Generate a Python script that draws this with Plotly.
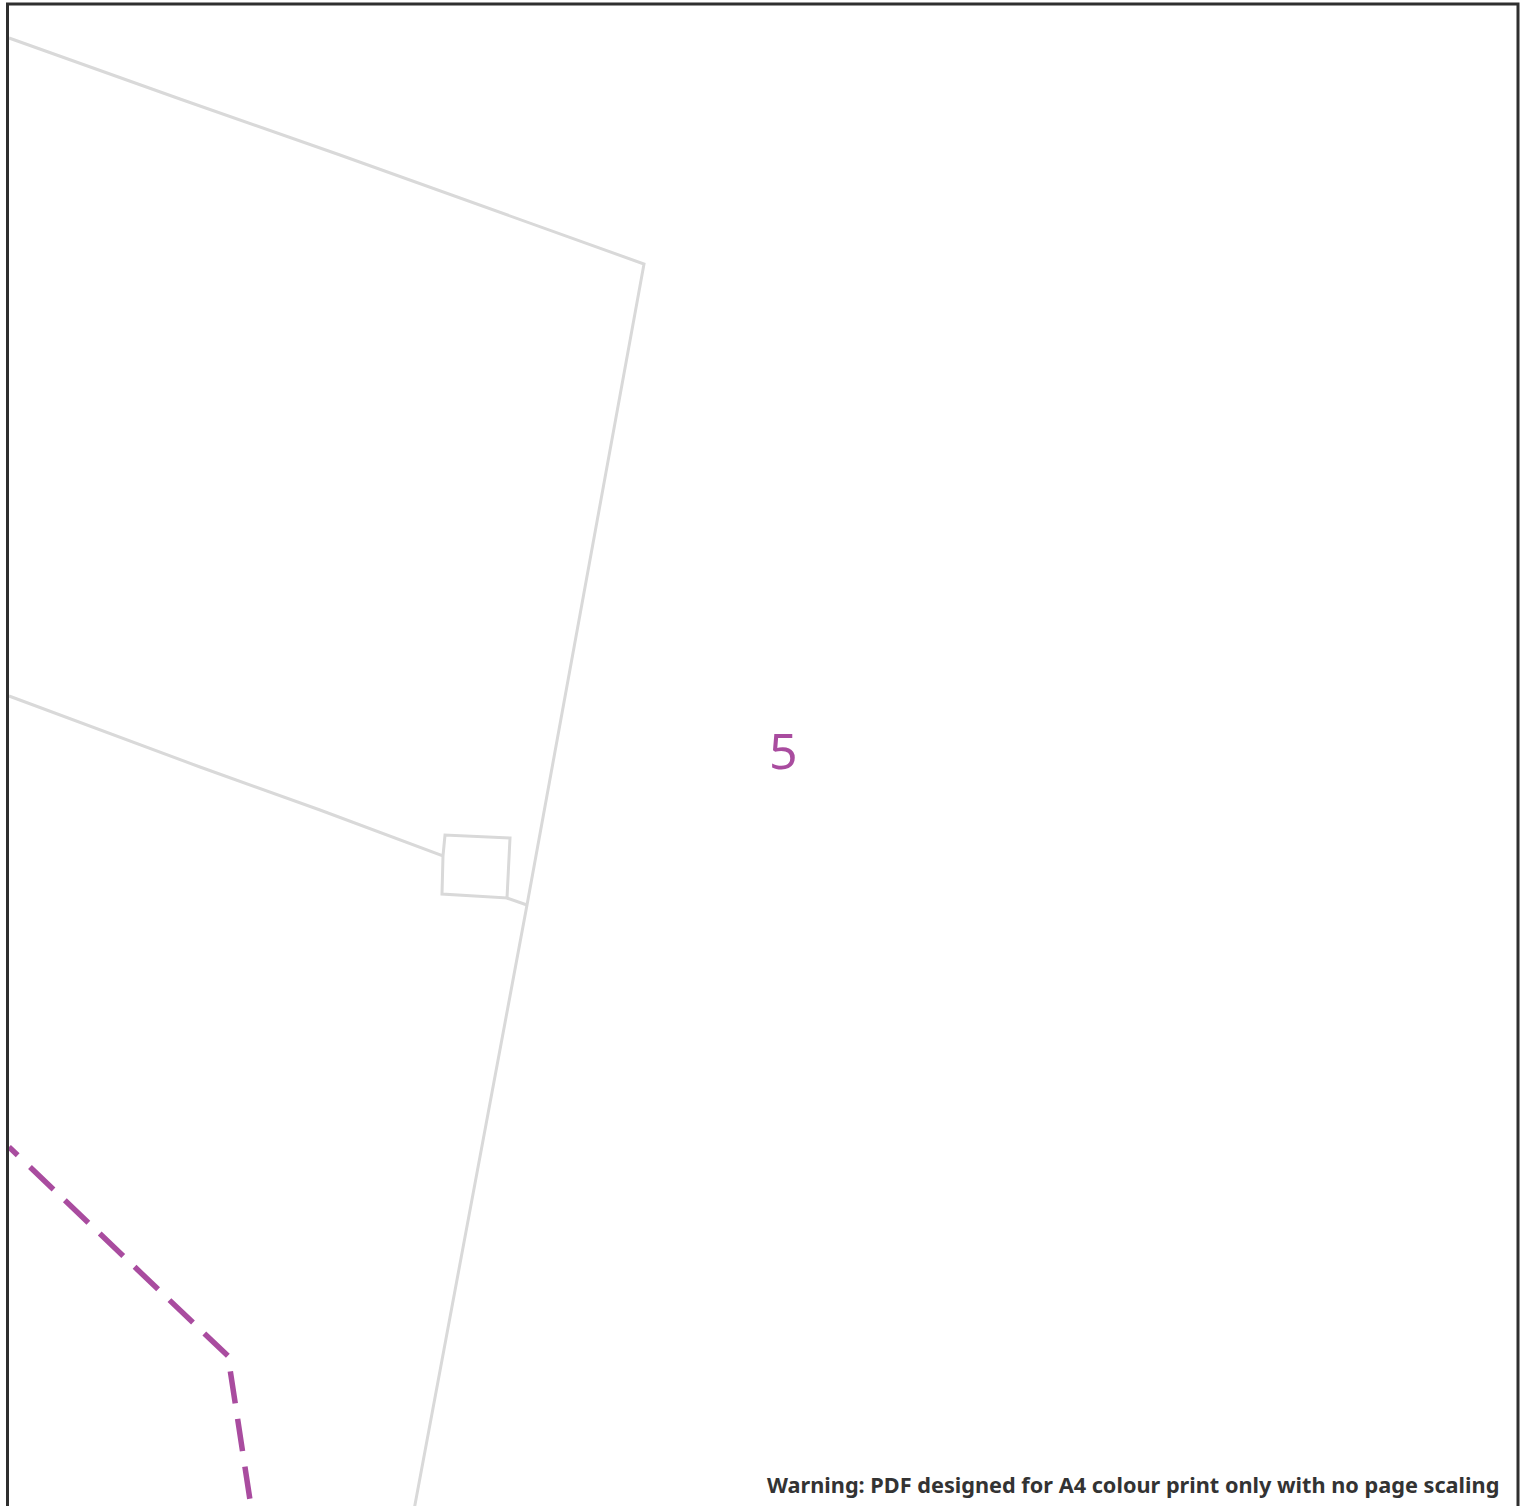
import plotly.graph_objects as go

# Values, in picture units
frame_x = [7.5, 7.5, 1518, 1518]
frame_y = [1510, 4, 4, 1510]
boundary_x = [9, 180, 340, 500, 644, 527, 414]
boundary_y = [38, 99, 155, 212, 264, 905, 1510]
branch_x = [9, 100, 200, 320, 443, 445, 510, 507, 442, 443]
branch_y = [696, 730, 767, 810, 856, 835, 838, 898, 894, 856]
tail_x = [507, 527]
tail_y = [898, 905]
route_x = [9, 228, 250]
route_y = [1147, 1356, 1500]
label_text = "5"
label_x = 783
label_y = 750
note_text = "Warning: PDF designed for A4 colour print only with no page scaling"
note_x = 1501
note_y = 1484

GREY = "#d9d9d9"
PURPLE = "#a94c9f"
DARK = "#2f2f2f"
ROUTE_DASH = "12px,17px," + ",".join(["32.5px,15.7px"] * 10)

fig = go.Figure()
for xs, ys in [(boundary_x, boundary_y), (branch_x, branch_y), (tail_x, tail_y)]:
    fig.add_trace(go.Scatter(x=xs, y=ys, mode="lines", line=dict(color=GREY, width=3),
                             hoverinfo="skip", showlegend=False))
fig.add_trace(go.Scatter(x=route_x, y=route_y, mode="lines",
                         line=dict(color=PURPLE, width=5.5, dash=ROUTE_DASH),
                         hoverinfo="skip", showlegend=False))
fig.add_trace(go.Scatter(x=frame_x, y=frame_y, mode="lines",
                         line=dict(color=DARK, width=3),
                         hoverinfo="skip", showlegend=False))
fig.add_annotation(x=label_x, y=label_y, text=label_text, showarrow=False,
                   font=dict(family="Noto Sans", size=50, color=PURPLE),
                   xanchor="center", yanchor="middle")
fig.add_annotation(x=note_x, y=note_y, text=f"<b>{note_text}</b>", showarrow=False,
                   font=dict(family="Noto Sans", size=21.7, color="#333333"),
                   xanchor="right", yanchor="middle")
fig.update_layout(
    width=1521, height=1506,
    margin=dict(l=0, r=0, t=0, b=0),
    paper_bgcolor="white", plot_bgcolor="white",
    xaxis=dict(range=[0, 1521], visible=False, fixedrange=True),
    yaxis=dict(range=[1506, 0], visible=False, fixedrange=True),
)
fig.write_html("out.html", config={"displayModeBar": False},
               post_script="document.body.style.margin='0';document.documentElement.style.overflow='hidden';")
